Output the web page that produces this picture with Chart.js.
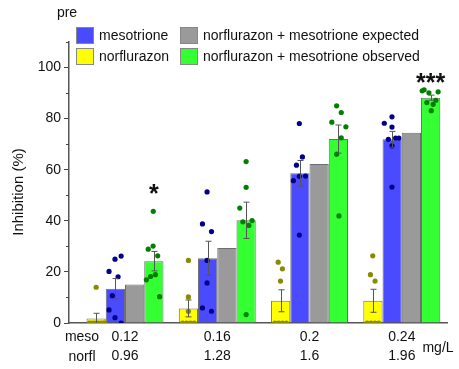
<!DOCTYPE html>
<html>
<head>
<meta charset="utf-8">
<script src="https://cdn.jsdelivr.net/npm/chart.js@4"></script>
<style>
  html, body { margin: 0; padding: 0; background: #fff; }
  #wrap { width: 459px; height: 369px; }
</style>
</head>
<body>
<div id="wrap"><canvas id="chart"></canvas></div>
<script>
// doses (mg/L)
const mesoDoses = ['0.12', '0.16', '0.2', '0.24'];
const norflDoses = ['0.96', '1.28', '1.6', '1.96'];
const yTicks = [0, 20, 40, 60, 80, 100];

// mean inhibition (%)
const norflMean = [1.8, 5.7, 8.7, 8.7];
const mesoMean = [13.4, 25.3, 58.6, 71.9];
const expectedMean = [15.1, 29.4, 62.2, 74.5];
const observedMean = [24.2, 40.2, 72.0, 88.2];

// standard errors
const norflSE = [2.0, 3.3, 4.3, 4.5];
const mesoSE = [4.0, 6.7, 5.0, 3.1];
const observedSE = [3.8, 7.1, 5.5, 1.0];

// replicates per dose
const norflPoints = [
  [14, 0, 0, 0, 0, 0, 0, 0],
  [24.5, 10.2, 4.6, 0, 0, 0, 0],
  [23.8, 21.2, 16.4, 0, 0, 0, 0],
  [26.3, 18.9, 16.4, 0, 0, 0, 0]
];
const mesoPoints = [
  [25, 26.2, 20.2, 18.1, 10.7, 5.1, 2.1, 0],
  [51.3, 38.8, 35.8, 24.5, 15.7, 5.9, 4.6],
  [78.1, 65, 61.8, 55.7, 57.4, 57.5, 34.4],
  [80.7, 78.2, 76.7, 71.9, 72.4, 72.4, 69.3, 53.2]
];
const observedPoints = [
  [43.7, 28.9, 30.1, 26.3, 16.9, 18.2, 18.9, 10.3],
  [63.2, 53.1, 45, 39.6, 40.1, 38.2, 3.3],
  [85, 82.4, 78.6, 76.8, 72.5, 66.1, 41.9],
  [90.9, 91.3, 90.1, 90.5, 86.3, 85.6, 87.2, 83.1]
];

// horizontal spread of replicates, as fraction of one bar width
const norflJitter = [
  [0, -0.35, -0.2, -0.05, 0.1, 0.25, 0.38, 0.45],
  [0, 0, 0, -0.3, -0.1, 0.1, 0.3],
  [-0.13, 0.09, -0.01, -0.3, -0.1, 0.1, 0.3],
  [-0.01, -0.13, 0.11, -0.3, -0.1, 0.1, 0.3]
];
const mesoJitter = [
  [-0.02, 0.3, -0.33, 0.14, -0.16, -0.33, -0.02, 0.3],
  [-0.03, -0.27, 0.2, -0.03, -0.03, -0.27, 0.2],
  [-0.03, 0.13, -0.18, -0.34, -0.03, 0.29, -0.03],
  [-0.01, -0.41, -0.01, -0.2, 0.18, 0.35, -0.01, -0.01]
];
const observedJitter = [
  [-0.03, -0.29, -0.04, 0.2, -0.39, -0.17, 0.08, 0.3],
  [0, 0, -0.33, -0.17, 0.31, 0.14, 0],
  [-0.09, 0.15, -0.34, 0.39, 0.15, -0.09, 0.03],
  [-0.44, -0.34, -0.09, 0.39, -0.2, 0.13, 0.27, 0.03]
];

// significance marks and the level (%) they sit on
const significance = ['*', '', '', '***'];
const significanceLevel = [47.4, null, null, 91];

const FONT = "'Liberation Sans', Arial, sans-serif";
const groupWidth = 0.834;           // share of dose spacing used by 4 bars
const barUnit = groupWidth / 4;

function barData(values) {
  return values.map((v, i) => ({ x: i, y: v }));
}
function pointData(points, jitter, slot) {
  const out = [];
  points.forEach((grp, i) => {
    grp.forEach((v, k) => {
      out.push({ x: i + (slot - 1.5) * barUnit + jitter[i][k] * barUnit, y: v });
    });
  });
  return out;
}

function barSet(label, values, color) {
  return {
    type: 'bar', label: label, data: barData(values), order: 1,
    backgroundColor: color, borderColor: '#6e6e6e', borderWidth: 1,
    categoryPercentage: groupWidth, barPercentage: 1
  };
}
function dotSet(points, jitter, slot, color) {
  return {
    type: 'scatter', data: pointData(points, jitter, slot), order: 0,
    backgroundColor: color, borderWidth: 0, pointRadius: 2.6, clip: 0
  };
}

const errorSets = [
  { ds: 0, mean: norflMean, se: norflSE },
  { ds: 1, mean: mesoMean, se: mesoSE },
  { ds: 3, mean: observedMean, se: observedSE }
];

const legendItems = [
  { ds: 1, col: 0, row: 0 },
  { ds: 2, col: 1, row: 0 },
  { ds: 0, col: 0, row: 1 },
  { ds: 3, col: 1, row: 1 }
];

const extras = {
  id: 'extras',
  afterDatasetsDraw(chart) {
    const ctx = chart.ctx;
    const ys = chart.scales.y;
    const area = chart.chartArea;
    ctx.save();
    ctx.beginPath();
    ctx.rect(area.left, area.top, area.right - area.left, area.bottom - area.top);
    ctx.clip();
    ctx.strokeStyle = '#555';
    ctx.lineWidth = 1;
    errorSets.forEach(e => {
      const meta = chart.getDatasetMeta(e.ds);
      e.mean.forEach((m, i) => {
        const cx = Math.round(meta.data[i].x) + 0.5;
        const top = ys.getPixelForValue(m + e.se[i]);
        const bot = ys.getPixelForValue(m - e.se[i]);
        ctx.beginPath();
        ctx.moveTo(cx, top); ctx.lineTo(cx, bot);
        ctx.moveTo(cx - 3, top); ctx.lineTo(cx + 3, top);
        ctx.moveTo(cx - 3, bot); ctx.lineTo(cx + 3, bot);
        ctx.stroke();
      });
    });
    ctx.restore();
  },
  afterDraw(chart) {
    const ctx = chart.ctx;
    const ys = chart.scales.y;
    const area = chart.chartArea;
    ctx.save();
    ctx.fillStyle = '#111';

    // minor y ticks
    ctx.strokeStyle = '#444';
    ctx.lineWidth = 1;
    for (let v = 10; v <= 110; v += 20) {
      const py = Math.round(ys.getPixelForValue(v)) + 0.5;
      ctx.beginPath();
      ctx.moveTo(area.left - 3, py); ctx.lineTo(area.left, py);
      ctx.stroke();
    }

    // y title
    ctx.font = '15px ' + FONT;
    ctx.textAlign = 'center';
    ctx.textBaseline = 'middle';
    ctx.save();
    ctx.translate(19, 192);
    ctx.rotate(-Math.PI / 2);
    ctx.fillText('Inhibition (%)', 0, 0);
    ctx.restore();

    ctx.font = '14px ' + FONT;
    ctx.fillText('pre', 67, 13);

    // row captions of the x axis
    ctx.fillText('meso', 82, 337);
    ctx.fillText('norfl', 82, 357);
    ctx.fillText('mg/L', 438, 348);

    // legend in two columns
    ctx.textAlign = 'left';
    legendItems.forEach(it => {
      const ds = chart.data.datasets[it.ds];
      const bx = 76 + it.col * 104;
      const by = 27 + it.row * 21;
      ctx.fillStyle = ds.backgroundColor;
      ctx.fillRect(bx, by, 18, 17);
      ctx.strokeStyle = '#888';
      ctx.strokeRect(bx + 0.5, by + 0.5, 17, 16);
      ctx.fillStyle = '#111';
      ctx.fillText(ds.label, bx + 23, by + 9);
    });

    // significance stars above observed bars
    ctx.font = 'bold 25px ' + FONT;
    ctx.textAlign = 'center';
    ctx.textBaseline = 'alphabetic';
    const obsMeta = chart.getDatasetMeta(3);
    significance.forEach((s, i) => {
      if (!s) return;
      ctx.fillText(s, obsMeta.data[i].x, ys.getPixelForValue(significanceLevel[i]));
    });
    ctx.restore();
  }
};

new Chart(document.getElementById('chart'), {
  type: 'bar',
  data: {
    datasets: [
      barSet('norflurazon', norflMean, '#ffff00'),
      barSet('mesotrione', mesoMean, '#4a4aff'),
      barSet('norflurazon + mesotrione expected', expectedMean, '#9a9a9a'),
      barSet('norflurazon + mesotrione observed', observedMean, '#33ff33'),
      dotSet(norflPoints, norflJitter, 0, '#8a8a00'),
      dotSet(mesoPoints, mesoJitter, 1, '#00008b'),
      dotSet(observedPoints, observedJitter, 3, '#008000')
    ]
  },
  options: {
    responsive: true,
    maintainAspectRatio: false,
    animation: false,
    layout: { padding: { left: 0, top: 42, right: 12, bottom: 0 } },
    plugins: { legend: { display: false }, tooltip: { enabled: false } },
    scales: {
      x: {
        type: 'linear', offset: false, min: -0.607, max: 3.49,
        afterBuildTicks: s => { s.ticks = mesoDoses.map((d, i) => ({ value: i })); },
        afterFit: s => { s.height = 46; },
        grid: { display: true, drawOnChartArea: false, drawTicks: false, offset: false },
        border: { display: true, color: '#555', width: 1.5 },
        ticks: {
          padding: 4, color: '#111', maxRotation: 0, autoSkip: false,
          font: { family: FONT, size: 14, lineHeight: 1.4 },
          callback: (v, i) => [mesoDoses[i], norflDoses[i]]
        }
      },
      y: {
        min: 0, max: 110,
        afterBuildTicks: s => { s.ticks = yTicks.map(v => ({ value: v })); },
        afterFit: s => { s.width = 69; },
        grid: { display: true, drawOnChartArea: false, drawTicks: true, tickLength: 5, color: '#444' },
        border: { display: true, color: '#555', width: 1.5 },
        ticks: { padding: 3, color: '#111', font: { family: FONT, size: 14 } }
      }
    }
  },
  plugins: [extras]
});
</script>
</body>
</html>
